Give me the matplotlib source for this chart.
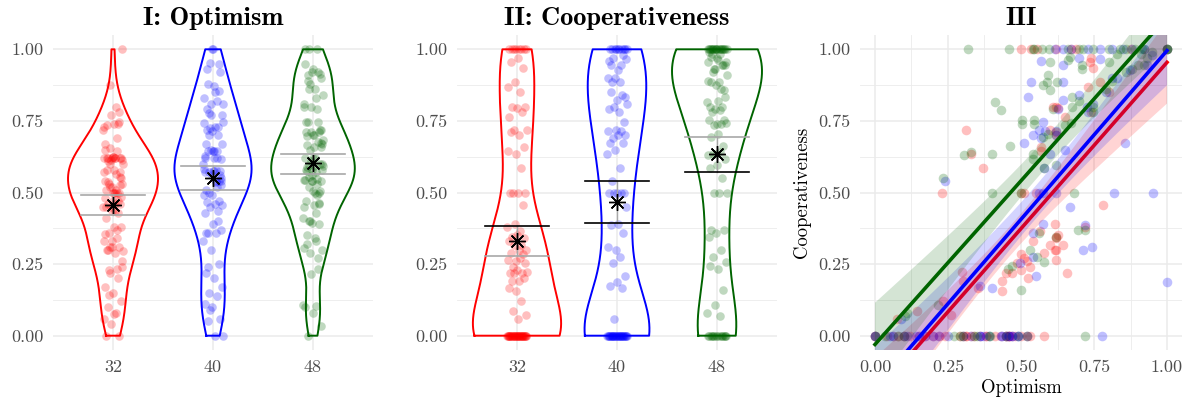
import numpy as np
import matplotlib
matplotlib.use("Agg")
import matplotlib.pyplot as plt
from matplotlib.ticker import FixedLocator

plt.rcParams['font.family'] = ['cmr10', 'DejaVu Serif']
plt.rcParams['axes.formatter.use_mathtext'] = True
plt.rcParams['axes.unicode_minus'] = False

# ---------------- data ----------------
groups = ["32", "40", "48"]

opt_32 = [0.50, 0.535, 0.555, 0.62, 0.67, 0.69, 0.875, 1.00,
          0.74, 0.735, 0.745, 0.77, 0.73, 0.80,
          0.61, 0.62, 0.625, 0.65, 0.74,
          0.31, 0.60, 0.62, 0.62,
          0.57, 0.33, 0.57,
          0.37, 0.23, 0.55, 0.50, 0.51,
          0.78, 0.615, 0.72,
          0.565, 0.62, 0.62, 0.625, 0.54, 0.645, 0.60,
          0.615, 0.62, 0.58, 0.50, 0.52, 0.62, 0.51,
          0.53, 0.485, 0.50, 0.45, 0.47, 0.656, 0.297, 0.436, 0.30, 0.525,
          0.436, 0.354, 0.234, 0.143, 0.26, 0.077,
          0.0, 0.0, 0.04, 0.06, 0.08, 0.10, 0.12, 0.15, 0.17, 0.20, 0.22, 0.24,
          0.29, 0.30, 0.31, 0.31, 0.33, 0.34, 0.36, 0.38, 0.38, 0.41, 0.43, 0.45,
          0.45, 0.46, 0.46, 0.46, 0.47, 0.48, 0.50, 0.52, 0.53, 0.58]
coop_32 = [1, 1, 1, 1, 1, 1, 1, 1,
           0.97, 0.955, 0.935, 0.885, 0.87, 0.85,
           0.80, 0.80, 0.795, 0.765, 0.78,
           0.72, 0.72, 0.70, 0.71,
           0.66, 0.635, 0.645,
           0.584, 0.50, 0.50, 0.50, 0.50,
           0.456, 0.39, 0.38,
           0.364, 0.345, 0.34, 0.35, 0.33, 0.318, 0.318,
           0.30, 0.30, 0.29, 0.285, 0.26, 0.265, 0.27,
           0.24, 0.253, 0.23, 0.22, 0.22, 0.22, 0.224, 0.19, 0.19, 0.203,
           0.157, 0.166, 0.12, 0.085, 0.073, 0.058,
           0, 0, 0, 0, 0, 0, 0, 0, 0, 0, 0, 0,
           0, 0, 0, 0, 0, 0, 0, 0, 0, 0, 0, 0,
           0, 0, 0, 0, 0, 0, 0, 0, 0, 0]

opt_40 = [0.616, 0.645, 0.67, 0.73, 0.77, 0.81, 0.85, 0.88, 0.92, 1.00,
          0.57, 0.645, 0.70, 0.77, 0.873, 0.93, 0.947, 0.81, 0.83, 0.535, 0.645,
          0.525, 0.645, 0.628, 0.70, 0.725, 0.745, 0.73, 0.79,
          0.576, 0.56, 0.582, 0.62, 0.57, 0.54, 0.62, 0.51, 0.856,
          0.65, 0.60, 0.58,
          0.24, 0.56, 0.576, 0.62, 0.82, 0.953, 0.668,
          0.576, 0.72, 0.54, 0.714, 0.742, 0.54, 0.497,
          0.55, 1.00, 0.36, 0.40, 0.09,
          0.0, 0.0, 0.05, 0.06, 0.10, 0.11, 0.14, 0.15, 0.17, 0.20, 0.22, 0.25,
          0.30, 0.33, 0.36, 0.36, 0.37, 0.39, 0.43, 0.434, 0.45, 0.457, 0.46, 0.468,
          0.47, 0.49, 0.49, 0.52, 0.776]
coop_40 = [1, 1, 1, 1, 1, 1, 1, 1, 1, 1,
           0.96, 0.944, 0.97, 0.967, 0.927, 0.944, 0.98, 0.90, 0.90, 0.886, 0.886,
           0.832, 0.822, 0.793, 0.84, 0.80, 0.81, 0.78, 0.85,
           0.747, 0.72, 0.715, 0.716, 0.69, 0.70, 0.70, 0.674, 0.674,
           0.648, 0.636, 0.584,
           0.54, 0.5, 0.5, 0.5, 0.5, 0.5, 0.45,
           0.39, 0.387, 0.357, 0.30, 0.31, 0.276, 0.253,
           0.207, 0.186, 0.172, 0.166, 0.058,
           0, 0, 0, 0, 0, 0, 0, 0, 0, 0, 0, 0,
           0, 0, 0, 0, 0, 0, 0, 0, 0, 0, 0, 0,
           0, 0, 0, 0, 0]

opt_48 = [0.32, 0.46, 0.54, 0.545, 0.571, 0.597, 0.66, 0.70, 0.713, 0.747,
          0.80, 0.839, 0.86, 0.89, 0.913, 0.92, 1.00, 1.00, 1.00,
          0.60, 0.66, 0.667, 0.71, 0.71, 0.80, 0.83, 0.91, 0.90, 0.93, 0.95, 0.92, 0.88,
          0.594, 0.622, 0.588, 0.60, 0.577, 0.81, 0.79, 0.86,
          0.673, 0.70, 0.745, 0.675, 0.61, 0.41, 0.43, 0.745,
          0.505, 0.505, 0.545, 0.546, 0.65, 0.67, 0.593, 0.576,
          0.462, 0.54, 0.305, 0.33, 0.40, 0.54, 0.62, 0.58,
          0.234, 0.40, 0.683, 0.50,
          0.696, 0.72, 0.56, 0.62, 0.53, 0.555, 0.58, 0.457, 0.47, 0.50, 0.217, 0.108, 0.103,
          0.0, 0.035, 0.08, 0.10, 0.27, 0.29, 0.30, 0.34, 0.35, 0.39, 0.394, 0.45, 0.49, 0.52, 0.72]
coop_48 = [1, 1, 1, 1, 1, 1, 1, 1, 1, 1,
           1, 1, 1, 1, 1, 1, 1, 1, 1,
           0.956, 0.964, 0.973, 0.944, 0.933, 0.956, 0.985, 0.985, 0.944, 0.97, 0.99, 0.945, 0.93,
           0.909, 0.886, 0.886, 0.857, 0.875, 0.89, 0.86, 0.92,
           0.834, 0.82, 0.80, 0.797, 0.79, 0.816, 0.788, 0.78,
           0.753, 0.739, 0.753, 0.739, 0.735, 0.743, 0.706, 0.695,
           0.662, 0.636, 0.63, 0.642, 0.634, 0.616, 0.596, 0.584,
           0.549, 0.5, 0.5, 0.5,
           0.369, 0.369, 0.36, 0.346, 0.30, 0.276, 0.259, 0.232, 0.245, 0.16, 0.108, 0.079, 0.067,
           0, 0, 0, 0, 0, 0, 0, 0, 0, 0, 0, 0, 0, 0, 0]

# summary statistics (mean and confidence interval)
opt_mean = [0.457, 0.551, 0.602]
opt_lo = [0.422, 0.509, 0.564]
opt_hi = [0.492, 0.593, 0.636]
coop_mean = [0.329, 0.467, 0.636]
coop_lo = [0.279, 0.393, 0.573]
coop_hi = [0.383, 0.541, 0.695]

ytick_vals = [0.0, 0.25, 0.5, 0.75, 1.0]
ytick_labels = ["0.00", "0.25", "0.50", "0.75", "1.00"]

# ---------------- style ----------------
colors = ["#FF0000", "#0000FF", "#006400"]
GRID = "#EBEBEB"
TICKC = "#4D4D4D"
CIGREY = "#A8A8A8"
TS = 13

opt = [np.asarray(v, float) for v in (opt_32, opt_40, opt_48)]
coop = [np.asarray(v, float) for v in (coop_32, coop_40, coop_48)]

W, H = 1193, 400
fig = plt.figure(figsize=(W / 100, H / 100), dpi=100)


def add_ax(l, r, t=35, b=350):
    return fig.add_axes([l / W, 1 - b / H, (r - l) / W, (b - t) / H])


def style(ax):
    for s in ax.spines.values():
        s.set_visible(False)
    ax.tick_params(which='both', length=0, labelsize=TS, labelcolor=TICKC)
    ax.tick_params(axis='y', pad=7)
    ax.tick_params(axis='x', pad=7)
    ax.set_axisbelow(True)
    ax.set_ylim(-0.05, 1.05)
    ax.yaxis.set_major_locator(FixedLocator(ytick_vals))
    ax.set_yticklabels(ytick_labels)
    ax.yaxis.set_minor_locator(FixedLocator([0.125, 0.375, 0.625, 0.875]))
    ax.grid(which='major', color=GRID, lw=1.1)
    ax.grid(which='minor', axis='y', color=GRID, lw=0.6)


def nrd0(x):
    n = len(x)
    hi = np.std(x, ddof=1)
    q75, q25 = np.percentile(x, [75, 25])
    lo = min(hi, (q75 - q25) / 1.34)
    if lo == 0:
        lo = hi
    return 0.9 * lo * n ** -0.2


def kde(x):
    h = nrd0(x)
    g = np.linspace(x.min(), x.max(), 512)
    d = np.exp(-0.5 * ((g[:, None] - x[None, :]) / h) ** 2).sum(1) / (len(x) * h * np.sqrt(2 * np.pi))
    return g, d


def jitter(n, k):
    return (((np.arange(n) + 1) * 0.6180339887 + 0.29 * k) % 1.0 - 0.5) * 0.2


def violin_panel(ax, data, means, lo, hi, cap_cols, title):
    style(ax)
    ax.set_xlim(0.4, 3.6)
    ax.set_xticks([1, 2, 3])
    ax.set_xticklabels(groups)
    kd = [kde(d) for d in data]
    m = max(d.max() for _, d in kd)
    for i, (g, d) in enumerate(kd):
        x0 = i + 1
        hw = 0.45 * d / m
        xs = np.concatenate([x0 - hw, (x0 + hw)[::-1], [x0 - hw[0]]])
        ys = np.concatenate([g, g[::-1], [g[0]]])
        ax.plot(xs, ys, color=colors[i], lw=1.4, zorder=3, solid_joinstyle='round')
        ax.scatter(x0 + jitter(len(data[i]), i), data[i], s=38, color=colors[i],
                   alpha=0.25, lw=0, zorder=4)
    for i in range(3):
        x0 = i + 1
        ax.plot([x0, x0], [lo[i], hi[i]], color=CIGREY, lw=1.0, zorder=5)
        ax.plot([x0 - 0.32, x0 + 0.32], [lo[i], lo[i]], color=cap_cols[i][0], lw=1.2, zorder=5)
        ax.plot([x0 - 0.32, x0 + 0.32], [hi[i], hi[i]], color=cap_cols[i][1], lw=1.2, zorder=5)
        ax.plot(x0, means[i], marker=(8, 2, 0), ms=12, mew=1.0, color='black', zorder=6)
    ax.set_title(title, fontsize=19, family='cmb10', pad=7)


axA = add_ax(53, 373)
axB = add_ax(457, 777)
axC = add_ax(860.4, 1181.6)

violin_panel(axA, opt, opt_mean, opt_lo, opt_hi,
             [(CIGREY, CIGREY)] * 3, "I: Optimism")
violin_panel(axB, coop, coop_mean, coop_lo, coop_hi,
             [(CIGREY, 'black'), ('black', 'black'), ('black', CIGREY)], "II: Cooperativeness")

# panel III
style(axC)
axC.set_xlim(-0.05, 1.05)
axC.xaxis.set_major_locator(FixedLocator(ytick_vals))
axC.set_xticklabels(ytick_labels)
axC.xaxis.set_minor_locator(FixedLocator([0.125, 0.375, 0.625, 0.875]))
axC.grid(which='minor', axis='x', color=GRID, lw=0.6)
for i in range(3):
    axC.scatter(opt[i], coop[i], s=48, color=colors[i], alpha=0.25, lw=0, zorder=3)
for i in range(3):
    x, y = opt[i], coop[i]
    n = len(x)
    b, a = np.polyfit(x, y, 1)
    xs = np.linspace(x.min(), x.max(), 100)
    yh = a + b * xs
    s = np.sqrt(((y - (a + b * x)) ** 2).sum() / (n - 2))
    se = s * np.sqrt(1 / n + (xs - x.mean()) ** 2 / ((x - x.mean()) ** 2).sum())
    z = 1.959964
    tq = z + (z ** 3 + z) / (4 * (n - 2))
    axC.fill_between(xs, yh - tq * se, yh + tq * se, color=colors[i], alpha=0.17, lw=0, zorder=4)
    axC.plot(xs, yh, color=colors[i], lw=2.6, zorder=4)
axC.set_title("III", fontsize=19, family='cmb10', pad=7)
axC.set_xlabel("Optimism", fontsize=13.5, labelpad=3)
axC.set_ylabel("Cooperativeness", fontsize=13.5, labelpad=5)

fig.savefig("out.png", dpi=100)
